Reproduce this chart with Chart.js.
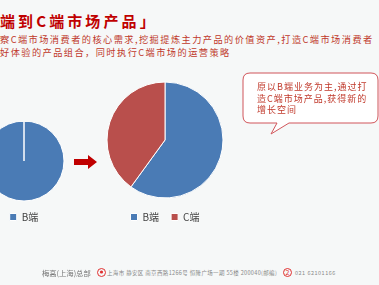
<!DOCTYPE html>
<html>
<head>
<meta charset="utf-8">
<script src="https://cdn.jsdelivr.net/npm/chart.js@4"></script>
<style>
  html, body { margin:0; padding:0; }
  body { width:379px; height:285px; background:#f6f8f8; position:relative; overflow:hidden;
         font-family:"Noto Sans CJK SC","Noto Sans",sans-serif; }
  .title { position:absolute; left:0; top:10px; font-size:15px; font-weight:bold; color:#c00000;
           letter-spacing:3.1px; white-space:nowrap; }
  .sub { position:absolute; left:0; top:33px; font-size:9.2px; line-height:13px; color:#c0392b;
         letter-spacing:1.45px; white-space:nowrap; }
  .box { position:absolute; }
  .arrow { position:absolute; left:74px; top:155px; }
  .bubble { position:absolute; left:242px; top:72px; }
  .btext { position:absolute; left:257px; top:81px; font-size:9px; line-height:11.5px; color:#c0392b;
           letter-spacing:1px; white-space:nowrap; }
  .foot { position:absolute; top:267px; white-space:nowrap; }
  .f1 { left:42px; font-size:7.3px; color:#777; top:267.5px; }
  .f2 { left:107px; top:269px; font-size:5.5px; color:#888; letter-spacing:0.35px; }
  .f3 { left:295px; top:269px; font-size:5.5px; color:#888; letter-spacing:0.5px; }
  .ic { position:absolute; top:268px; }
</style>
</head>
<body>
<div class="title">端到C端市场产品」</div>
<div class="sub">察C端市场消费者的核心需求,挖掘提炼主力产品的价值资产,打造C端市场消费者<br>好体验的产品组合，同时执行C端市场的运营策略</div>

<div class="box" style="left:-56px; top:122px; width:160px; height:110px;"><canvas id="leftPie"></canvas></div>
<div class="box" style="left:85px; top:80px; width:160px; height:152px;"><canvas id="rightPie"></canvas></div>

<svg class="arrow" width="24" height="14" viewBox="0 0 24 14">
  <polygon points="0,4 14,4 14,0 23,7 14,14 14,10 0,10" fill="#c00000"/>
</svg>

<svg class="bubble" width="137" height="64" viewBox="0 0 137 64">
  <path d="M8,1 H129 Q136,1 136,8 V44 Q136,51 129,51 H47 L29,62 L35,51 H8 Q1,51 1,44 V8 Q1,1 8,1 Z"
        fill="#ffffff" stroke="#d0555a" stroke-width="1"/>
</svg>
<div class="btext">原以B端业务为主,通过打<br>造C端市场产品,获得新的<br>增长空间</div>

<div class="foot f1">梅高(上海)总部</div>
<svg class="ic" style="left:97px" width="9" height="9"><circle cx="4.5" cy="4.5" r="4" fill="none" stroke="#e03030"/><circle cx="4.5" cy="4" r="1.6" fill="#e03030"/></svg>
<div class="foot f2">上海市 静安区 南京西路1266号 恒隆广场一期 55楼 200040(邮编)</div>
<svg class="ic" style="left:283px" width="9" height="9"><circle cx="4.5" cy="4.5" r="4" fill="none" stroke="#e03030"/><text x="2.5" y="7" font-size="7" fill="#e03030">2</text></svg>
<div class="foot f3">021 62101166</div>

<script>
  const leftLabels = ['B端'];
  const leftValues = [100];
  const rightLabels = ['B端', 'C端'];
  const rightValues = [60, 40];
  const sliceColors = ['#4a7bb5', '#b94f4c'];

  function pieOpts() {
    return {
      responsive: true,
      maintainAspectRatio: false,
      animation: false,
      layout: { padding: 0 },
      plugins: {
        legend: {
          position: 'bottom',
          labels: { boxWidth: 7, boxHeight: 7, padding: 12, color: '#444',
                    font: { size: 10, family: '"Noto Sans CJK SC", sans-serif' } }
        },
        tooltip: { enabled: false }
      }
    };
  }

  new Chart(document.getElementById('leftPie'), {
    type: 'pie',
    data: {
      labels: leftLabels,
      datasets: [{ data: leftValues, backgroundColor: sliceColors, borderColor: '#ffffff', borderWidth: 1, radius: 40 }]
    },
    options: pieOpts()
  });

  new Chart(document.getElementById('rightPie'), {
    type: 'pie',
    data: {
      labels: rightLabels,
      datasets: [{ data: rightValues, backgroundColor: sliceColors, borderColor: '#ffffff', borderWidth: 1, radius: 58 }]
    },
    options: pieOpts()
  });
</script>
</body>
</html>
